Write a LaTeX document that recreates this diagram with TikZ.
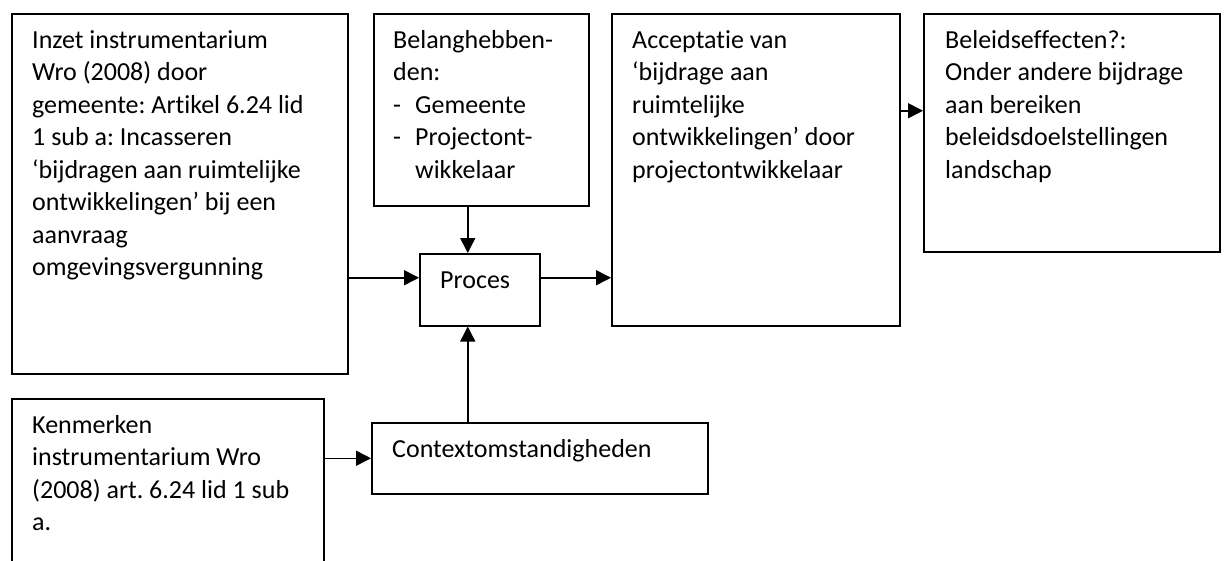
\documentclass[tikz,border=0pt]{standalone}
\usepackage{fontspec}
\setmainfont{Carlito}[Ligatures=NoCommon]
\usetikzlibrary{arrows.meta}
\newcommand{\eersteregel}{\rule{0pt}{20pt}}
\frenchspacing

\begin{document}
\begin{tikzpicture}[x=1pt,y=-1pt,
  blok/.style={draw,line width=1.5pt,inner sep=0pt,anchor=north west},
  tekst/.style={anchor=north west,inner sep=0pt,align=left,font=\fontsize{26}{32.5}\selectfont},
  pijl/.style={line width=1.5pt,-{Triangle[length=15pt,width=15pt]}}]
\useasboundingbox (0,0) rectangle (1226,560);
\clip (0,0) rectangle (1226,560);
% kaders
\node[blok,minimum width=336pt,minimum height=360pt] (inzet) at (11,13) {};
\node[blok,minimum width=215pt,minimum height=192pt] (belang) at (373,13) {};
\node[blok,minimum width=120pt,minimum height=72pt] (proces) at (419,253) {};
\node[blok,minimum width=288pt,minimum height=312pt] (accept) at (611,13) {};
\node[blok,minimum width=296pt,minimum height=238pt] (beleid) at (923,13) {};
\node[blok,minimum width=312pt,minimum height=180pt] (kenmerk) at (11,398) {};
\node[blok,minimum width=336pt,minimum height=71pt] (context) at (371,422) {};
% teksten
\node[tekst] (inzet-t) at ([shift={(21pt,-15pt)}]inzet.north west)
  {\eersteregel Inzet instrumentarium\\Wro (2008) door\\gemeente: Artikel 6.24 lid\\1 sub a: Incasseren\\‘bijdragen aan ruimtelijke\\ontwikkelingen’ bij een\\aanvraag\\omgevingsvergunning};
\node[tekst] (belang-t) at ([shift={(20pt,-15pt)}]belang.north west)
  {\eersteregel Belanghebben-\\den:\\\makebox[22pt][l]{-}Gemeente\\\makebox[22pt][l]{-}Projectont-\\\hspace*{22pt}wikkelaar};
\node[tekst] (proces-t) at ([shift={(21pt,-15pt)}]proces.north west) {\eersteregel Proces};
\node[tekst] (accept-t) at ([shift={(21pt,-15pt)}]accept.north west)
  {\eersteregel Acceptatie van\\‘bijdrage aan\\ruimtelijke\\ontwikkelingen’ door\\projectontwikkelaar};
\node[tekst] (beleid-t) at ([shift={(22pt,-15pt)}]beleid.north west)
  {\eersteregel Beleidseffecten?:\\Onder andere bijdrage\\aan bereiken\\beleidsdoelstellingen\\landschap};
\node[tekst] (kenmerk-t) at ([shift={(21pt,-15pt)}]kenmerk.north west)
  {\eersteregel Kenmerken\\instrumentarium Wro\\(2008) art. 6.24 lid 1 sub\\a.};
\node[tekst] (context-t) at ([shift={(21pt,-15pt)}]context.north west) {\eersteregel Contextomstandigheden};
% pijlen
\draw[pijl] ([yshift=12pt]proces.west -| inzet.east) -- ([yshift=12pt]proces.west);
\draw[pijl] ([xshift=-12pt]proces.north |- belang.south) -- ([xshift=-12pt]proces.north);
\draw[pijl] ([yshift=12pt]proces.east) -- ([yshift=12pt]proces.east -| accept.west);
\draw[pijl] ([yshift=22pt]beleid.west -| accept.east) -- ([yshift=22pt]beleid.west);
\draw[pijl] ([xshift=-12pt]proces.south |- context.north) -- ([xshift=-12pt]proces.south);
\draw[pijl] (context.west -| kenmerk.east) -- (context.west);
\end{tikzpicture}
\end{document}
